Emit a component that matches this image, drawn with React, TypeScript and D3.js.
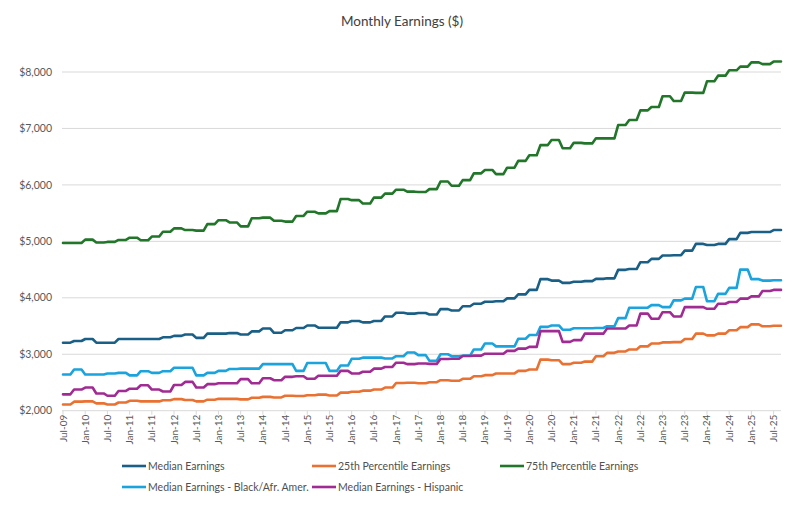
import React from "react";
import * as d3 from "d3";

// Quarterly values (Jul-09 quarter through Jul-25 quarter), each held for 3 months
const medianEarnings = [
  3205, 3235, 3270, 3205, 3205, 3270, 3270, 3270, 3270, 3300, 3325, 3350, 3290, 3365, 3365, 3375,
  3350, 3405, 3455, 3380, 3425, 3465, 3510, 3470, 3470, 3565, 3590, 3565, 3590, 3670, 3735, 3720,
  3730, 3705, 3800, 3775, 3850, 3895, 3930, 3940, 3990, 4060, 4140, 4330, 4305, 4265, 4285, 4295,
  4335, 4345, 4495, 4510, 4630, 4690, 4750, 4755, 4835, 4955, 4935, 4955, 5040, 5150, 5165, 5165, 5200,
];
const p25Earnings = [
  2110, 2160, 2165, 2130, 2110, 2145, 2175, 2165, 2165, 2185, 2205, 2190, 2165, 2195, 2210, 2210,
  2200, 2230, 2245, 2235, 2265, 2260, 2275, 2285, 2270, 2320, 2335, 2355, 2375, 2410, 2490, 2495,
  2485, 2505, 2540, 2530, 2565, 2610, 2630, 2660, 2660, 2705, 2730, 2905, 2895, 2825, 2850, 2870,
  2965, 3025, 3050, 3085, 3140, 3190, 3210, 3215, 3270, 3365, 3335, 3365, 3425, 3480, 3530, 3495, 3505,
];
const p75Earnings = [
  4970, 4970, 5030, 4980, 4990, 5025, 5065, 5020, 5085, 5170, 5230, 5200, 5190, 5305, 5375, 5335,
  5265, 5410, 5420, 5365, 5350, 5450, 5525, 5495, 5535, 5750, 5730, 5670, 5775, 5845, 5915, 5880,
  5875, 5925, 6060, 5985, 6085, 6205, 6265, 6190, 6305, 6425, 6525, 6705, 6795, 6650, 6745, 6735,
  6825, 6825, 7060, 7150, 7320, 7380, 7570, 7485, 7635, 7630, 7835, 7935, 8030, 8095, 8170, 8140, 8185,
];
const blackEarnings = [
  2640, 2730, 2640, 2640, 2660, 2670, 2625, 2700, 2670, 2700, 2760, 2760, 2625, 2670, 2705, 2740,
  2745, 2745, 2825, 2825, 2825, 2705, 2845, 2845, 2705, 2800, 2920, 2940, 2940, 2925, 2965, 3030,
  2985, 2885, 3000, 2965, 2975, 3085, 3190, 3140, 3140, 3275, 3340, 3485, 3510, 3435, 3460, 3460,
  3465, 3495, 3640, 3825, 3825, 3870, 3835, 3955, 3985, 4190, 3940, 4070, 4175, 4500, 4330, 4305, 4310,
];
const hispanicEarnings = [
  2290, 2375, 2410, 2305, 2265, 2350, 2390, 2450, 2375, 2340, 2455, 2510, 2410, 2470, 2485, 2485,
  2560, 2485, 2575, 2540, 2600, 2610, 2565, 2620, 2620, 2705, 2660, 2690, 2745, 2775, 2850, 2825,
  2835, 2830, 2915, 2920, 2970, 2975, 3010, 3010, 3060, 3100, 3130, 3410, 3410, 3220, 3250, 3365,
  3365, 3455, 3455, 3510, 3720, 3630, 3745, 3670, 3835, 3835, 3805, 3895, 3925, 3985, 4025, 4120, 4140,
];

const xTickLabels = [
  "Jul-09", "Jan-10", "Jul-10", "Jan-11", "Jul-11", "Jan-12", "Jul-12", "Jan-13", "Jul-13",
  "Jan-14", "Jul-14", "Jan-15", "Jul-15", "Jan-16", "Jul-16", "Jan-17", "Jul-17", "Jan-18",
  "Jul-18", "Jan-19", "Jul-19", "Jan-20", "Jul-20", "Jan-21", "Jul-21", "Jan-22", "Jul-22",
  "Jan-23", "Jul-23", "Jan-24", "Jul-24", "Jan-25", "Jul-25",
];
const yTicks = [2000, 3000, 4000, 5000, 6000, 7000, 8000];

const seriesNames = [
  "Median Earnings",
  "25th Percentile Earnings",
  "75th Percentile Earnings",
  "Median Earnings - Black/Afr. Amer.",
  "Median Earnings - Hispanic",
];
const seriesValues = [medianEarnings, p25Earnings, p75Earnings, blackEarnings, hispanicEarnings];
const seriesColors = ["#1a5f85", "#E97132", "#217629", "#1aa3dc", "#A02B93"];

const WIDTH = 800;
const HEIGHT = 516;
const margin = { top: 72, right: 19, bottom: 106, left: 63 };
const FONT = "Lato, 'Open Sans', sans-serif";
const MONTHS = 194; // last month index

export default function App() {
  const x = d3
    .scaleLinear()
    .domain([0, MONTHS])
    .range([margin.left, WIDTH - margin.right]);
  const y = d3
    .scaleLinear()
    .domain([2000, 8000])
    .range([HEIGHT - margin.bottom + 0.7, margin.top]);

  const line = d3
    .line<[number, number]>()
    .x((d) => x(d[0]))
    .y((d) => y(d[1]));

  // each quarter value spans its 3 months
  const toPoints = (values: number[]): [number, number][] =>
    values.flatMap((v, q) => [
      [q * 3, v] as [number, number],
      [q * 3 + 2, v] as [number, number],
    ]);

  const fmt = d3.format("$,");
  const axisY = y(2000);
  const gridLeft = x(0) - 1;
  const gridRight = x(MONTHS);

  const legendCols = [122, 312, 500];
  const legendRows = [466, 487];

  return (
    <svg
      width={WIDTH}
      height={HEIGHT}
      style={{ position: "absolute", left: 0, top: 0, background: "#fff" }}
      fontFamily={FONT}
    >
      <text x={402} y={26} textAnchor="middle" fontSize={13.5} fill="#404040">
        Monthly Earnings ($)
      </text>

      {yTicks.map((t) => (
        <g key={t}>
          <line x1={gridLeft} x2={gridRight} y1={y(t)} y2={y(t)} stroke="#d9d9d9" strokeWidth={1} />
          <text x={52} y={y(t)} dy="0.35em" textAnchor="end" fontSize={10.5} fill="#595959">
            {fmt(t)}
          </text>
        </g>
      ))}

      {xTickLabels.map((lab, i) => {
        const xi = x(i * 6);
        return (
          <g key={lab}>
            <line x1={xi} x2={xi} y1={axisY} y2={axisY + 4} stroke="#d9d9d9" />
            <text
              transform={`translate(${xi},${axisY + 4}) rotate(-90)`}
              textAnchor="end"
              dy="0.35em"
              fontSize={10}
              fill="#595959"
            >
              {lab}
            </text>
          </g>
        );
      })}

      {seriesValues.map((vals, i) => (
        <path
          key={seriesNames[i]}
          d={line(toPoints(vals)) ?? ""}
          fill="none"
          stroke={seriesColors[i]}
          strokeWidth={2.6}
          strokeLinejoin="round"
          strokeLinecap="round"
        />
      ))}

      {seriesNames.map((name, i) => {
        const lx = legendCols[i % 3];
        const ly = legendRows[Math.floor(i / 3)];
        return (
          <g key={name}>
            <line x1={lx} x2={lx + 24} y1={ly} y2={ly} stroke={seriesColors[i]} strokeWidth={2.6} />
            <text x={lx + 26} y={ly} dy="0.35em" fontSize={10.5} fill="#505050">
              {name}
            </text>
          </g>
        );
      })}
    </svg>
  );
}
